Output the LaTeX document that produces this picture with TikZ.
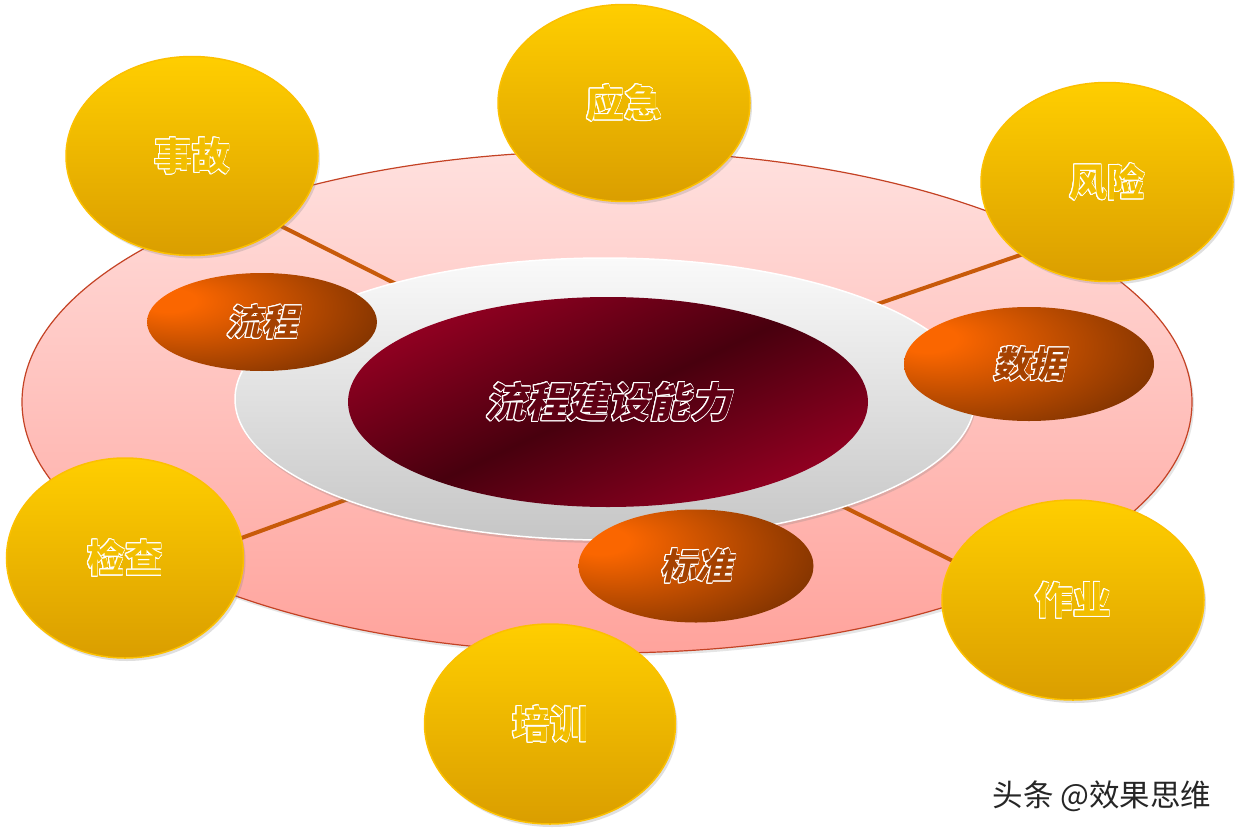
\documentclass[tikz,border=0pt]{standalone}
\usepackage{fontspec}
\usetikzlibrary{shapes.geometric,shadows}
\newfontfamily\cjk{Noto Sans CJK SC}
\newfontfamily\cjksl{Noto Sans CJK SC}[FakeSlant=0.22]
\definecolor{pinktop}{RGB}{255,224,222}
\definecolor{pinkbot}{RGB}{255,163,156}
\definecolor{pinkline}{RGB}{196,66,36}
\definecolor{goldtop}{RGB}{255,206,0}
\definecolor{goldbot}{RGB}{218,158,0}
\definecolor{goldline}{RGB}{252,192,0}
\definecolor{goldtxt}{RGB}{242,190,0}
\definecolor{redlight}{RGB}{148,0,34}
\definecolor{reddark}{RGB}{72,0,14}
\definecolor{redtxt}{RGB}{95,0,20}
\definecolor{orlight}{RGB}{250,102,0}
\definecolor{ordark}{RGB}{98,38,0}
\definecolor{ortxt}{RGB}{165,65,0}
\definecolor{conn}{RGB}{200,90,10}
\pgfdeclarehorizontalshading{redband}{100bp}{color(0bp)=(redlight); color(25bp)=(redlight); color(50bp)=(reddark); color(75bp)=(redlight); color(100bp)=(redlight)}
\pgfdeclareradialshading{brownrad}{\pgfpoint{-22bp}{12bp}}{color(0bp)=(orlight); color(6bp)=(orlight); color(48bp)=(ordark); color(80bp)=(ordark)}
\tikzset{
  goldball/.style={ellipse, inner sep=0pt, top color=goldtop, bottom color=goldbot,
    draw=goldline, line width=1.5pt, text=goldtxt,
    drop shadow={opacity=0.25, shadow xshift=2pt, shadow yshift=-3pt},
    font=\cjk\bfseries\fontsize{38}{40}\selectfont},
  brownball/.style={ellipse, inner sep=0pt, shading=brownrad, text=ortxt,
    font=\cjksl\bfseries\fontsize{36}{38}\selectfont},
  link/.style={draw=conn, line width=4pt}
}
\newcommand{\outl}[1]{\leavevmode\setbox0\hbox{#1}%
  \foreach \a in {0,20,...,340}{\pgfmathsetlengthmacro{\dx}{0.9pt*cos(\a)}%
    \pgfmathsetlengthmacro{\dy}{0.9pt*sin(\a)}%
    \rlap{\hskip\dx\raisebox{\dy}{\color{white}\copy0}}}%
  \box0}
\begin{document}
\begin{tikzpicture}[x=1pt,y=-1pt]
\useasboundingbox[fill=white] (0,0) rectangle (1240,835);
% big pink ellipse
\node[ellipse, minimum width=1170pt, minimum height=502pt, inner sep=0pt,
  top color=pinktop, bottom color=pinkbot, draw=pinkline, line width=1.2pt,
  drop shadow={opacity=0.2, shadow xshift=2pt, shadow yshift=-3pt}] (ring) at (607,402) {};
% connectors
\coordinate (a1) at (265,218); \coordinate (b1) at (420,296);
\coordinate (a2) at (1035,250); \coordinate (b2) at (860,310);
\coordinate (a3) at (225,544); \coordinate (b3) at (370,491);
\coordinate (a4) at (965,567); \coordinate (b4) at (830,500);
\draw[link] (a1) -- (b1);
\draw[link] (a2) -- (b2);
\draw[link] (a3) -- (b3);
\draw[link] (a4) -- (b4);
% gray ellipse
\node[ellipse, minimum width=740pt, minimum height=282pt, inner sep=0pt,
  top color=gray!4, bottom color=gray!45, draw=white, line width=1.5pt,
  drop shadow={opacity=0.25, shadow xshift=1pt, shadow yshift=-3pt}] (plate) at (605,399) {};
% center
\node[ellipse, minimum width=520pt, minimum height=210pt, inner sep=0pt,
  shading=redband, shading angle=-65,
  text=redtxt, font=\cjksl\bfseries\fontsize{41}{43}\selectfont] (core) at (608,402) {\outl{流程建设能力}};
% brown ellipses
\node[brownball, minimum width=230pt, minimum height=98pt] (liucheng) at (262,322) {\outl{流程}};
\node[brownball, minimum width=250pt, minimum height=114pt] (shuju) at (1029,364) {\outl{数据}};
\node[brownball, minimum width=235pt, minimum height=113pt] (biaozhun) at (696,566) {\outl{标准}};
% gold ellipses
\node[goldball, minimum width=252pt, minimum height=199pt] (shigu) at (192,156) {\outl{事故}};
\node[goldball, minimum width=252pt, minimum height=197pt] (yingji) at (624,103) {\outl{应急}};
\node[goldball, minimum width=252pt, minimum height=199pt] (fengxian) at (1107,182) {\outl{风险}};
\node[goldball, minimum width=237pt, minimum height=200pt] (jiancha) at (125,558) {\outl{检查}};
\node[goldball, minimum width=251pt, minimum height=200pt] (peixun) at (550,724) {\outl{培训}};
\node[goldball, minimum width=262pt, minimum height=200pt] (zuoye) at (1073,600) {\outl{作业}};
% watermark
\node[anchor=center, font=\cjk\fontsize{30.5}{32}\selectfont, text=black!85] (wm) at (1102,796) {头条 @效果思维};
\end{tikzpicture}
\end{document}
